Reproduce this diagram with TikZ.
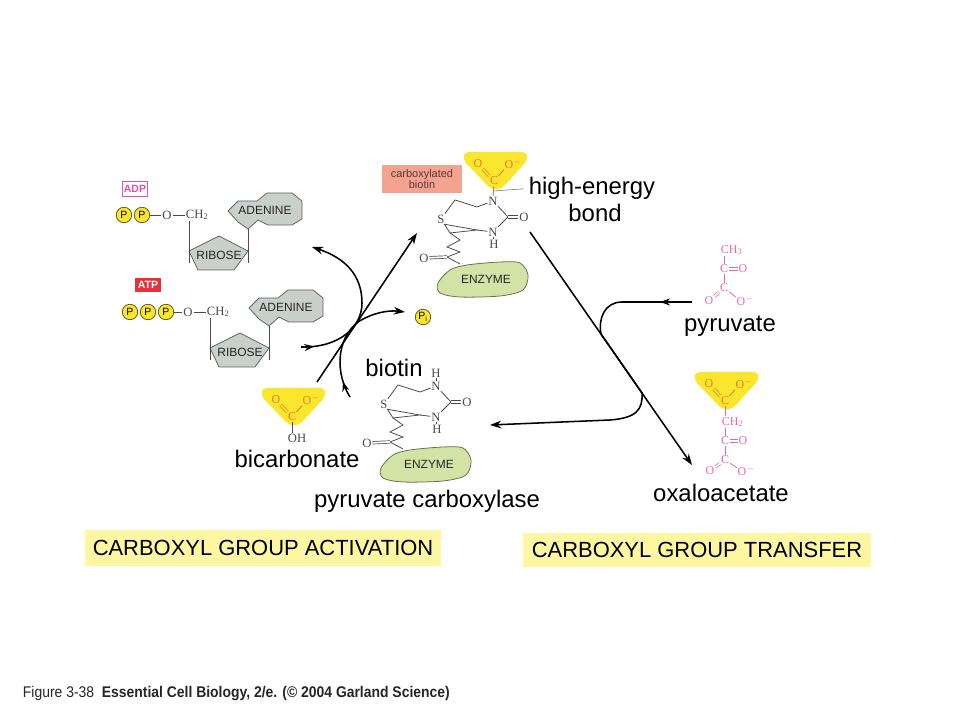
\documentclass[tikz,border=0pt]{standalone}
\usepackage{fontspec}
\setmainfont{Liberation Sans}
\newfontfamily\chemfont{Liberation Serif}
\newfontfamily\footfont[FakeStretch=0.9]{Liberation Sans}
\usetikzlibrary{arrows.meta,positioning,calc,decorations.markings}

\definecolor{ylw}{HTML}{FBE62E}
\definecolor{capy}{HTML}{FDF6A3}
\definecolor{pinkc}{HTML}{E46AA6}
\definecolor{orc}{HTML}{E8782E}
\definecolor{grayf}{HTML}{C9CFCB}
\definecolor{grayd}{HTML}{5E6360}
\definecolor{enzf}{HTML}{D2E3A5}
\definecolor{enzd}{HTML}{68704A}
\definecolor{salm}{HTML}{F4A391}
\definecolor{salt}{HTML}{5A3A32}
\definecolor{adpc}{HTML}{E0559F}
\definecolor{atpc}{HTML}{E8303A}
\definecolor{chemg}{HTML}{4A4A4A}

\tikzset{
  lbl/.style={anchor=base, font=\fontsize{17}{20}\selectfont},
  chem/.style={inner sep=0.5pt, text=chemg, font=\chemfont\fontsize{9}{10}\selectfont},
  pk/.style={chem, text=pinkc, font=\chemfont\fontsize{8.5}{10}\selectfont},
  cx/.style={chem, text=orc, font=\chemfont\fontsize{8.5}{10}\selectfont},
  bond/.style={draw=chemg, line width=0.55pt},
  pbond/.style={draw=pinkc, line width=0.6pt},
  xbond/.style={draw=orc, line width=0.6pt},
  dbl/.style={double, double distance=1.3pt, line width=0.5pt},
  gbox/.style={draw=grayd, fill=grayf, line width=0.55pt, line join=round},
  gtxt/.style={font=\fontsize{8.5}{10}\selectfont, text=black!85},
  enz/.style={draw=enzd, fill=enzf, line width=0.55pt},
  pcirc/.style={circle, draw=black!60!ylw, fill=ylw, line width=0.55pt,
    minimum size=11pt, inner sep=0pt, font=\fontsize{7.5}{8}\selectfont},
  salbox/.style={fill=salm, text=salt, align=center, inner sep=1pt,
    font=\fontsize{7.8}{8.3}\selectfont, minimum width=57pt, minimum height=20pt},
  capbox/.style={fill=capy, inner sep=0pt, font=\fontsize{15.6}{18}\selectfont},
  arr/.style={draw=black, line width=1.1pt, -{Stealth[length=8pt,width=5.5pt]}},
  midarr/.style={postaction={decorate}, decoration={markings,
    mark=at position #1 with {\arrow{Stealth[length=7pt,width=5pt]}}}},
  carboxyl/.pic={
    \fill[ylw] (-25,-29) -- (28,-29) .. controls (34,-29) and (35,-23) .. (31,-18)
      -- (12,3) .. controls (6,10) and (-2,10) .. (-8,3) -- (-28,-18)
      .. controls (-32,-23) and (-31,-29) .. (-25,-29) -- cycle;
    \node[cx] (-o) at (-16,-17) {O};
    \node[cx] (-om) at (15,-17) {O\rlap{$^-$}};
    \node[cx] (-c) at (0,0) {C};
    \draw[xbond, dbl, double=ylw] (-o) -- (-c);
    \draw[xbond] (-c) -- (-om);
  },
  biotin/.pic={
    \draw[enz] plot[smooth cycle] coordinates {(-39,76) (-27,63) (-10,58) (23,55)
      (43,56) (51,68) (46,83) (23,89) (-17,90) (-37,86)};
    \node[gtxt] at (9,72) {ENZYME};
    \coordinate (-ft) at (0,0);
    \coordinate (-ch) at (-22,-7);
    \node[chem] (-s) at (-36,12) {S};
    \coordinate (-cb) at (-27,26);
    \coordinate (-fb) at (0,23);
    \node[chem] (-nt) at (16,-6) {N};
    \coordinate (-cc) at (31,10);
    \node[chem] (-o) at (47,10) {O};
    \node[chem] (-nb) at (16,25) {N};
    \node[chem] (-h) at (17,37) {H};
    \draw[bond] (-ft) -- (-ch) -- (-s) -- (-cb) -- (-fb) -- cycle;
    \draw[bond] (-ft) -- (-nt) -- (-cc) -- (-nb) -- (-fb);
    \draw[bond, dbl] (-cc) -- (-o);
    \draw[bond] (-nb) -- (-h);
    \draw[bond] (-cb) -- (-17,33) -- (-30,40) -- (-17,45) -- (-30,50) coordinate (-zo) -- (-17,57);
    \node[chem] (-ok) at (-53,51) {O};
    \draw[bond, dbl] (-ok) -- (-zo);
  },
  nucl/.pic={
    \draw[gbox] (0,0) -- (30,-15) -- (59,0) -- (45,19) -- (9,19) -- cycle;
    \node[gtxt] at (30,4) {RIBOSE};
    \draw[gbox] (39,-40) -- (49,-50) -- (68,-50) -- (78,-58) -- (103,-58) -- (113,-50)
      -- (113,-32) -- (103,-26) -- (79,-26) -- (69,-31) -- (59,-22) -- (49,-29) -- cycle;
    \node[gtxt] at (76,-41) {ADENINE};
    \node[chem, anchor=west] (-ch) at (-4,-36) {CH\textsubscript{2}};
    \node[chem] (-o) at (-22,-36) {O};
    \draw[bond] (-o) -- (-ch);
    \draw[bond] (0,-30) -- (0,12);
    \draw[bond] (59,-22) -- (59,12);
  }
}

\begin{document}
\begin{tikzpicture}[x=0.025cm, y=-0.025cm]
  \useasboundingbox (0,0) rectangle (960,720);
  \fill[white] (0,0) rectangle (960,720);

  % ADP and ATP
  \node[draw=adpc, text=adpc, fill=white, line width=0.7pt, inner sep=1pt,
    minimum width=18pt, minimum height=10pt, font=\bfseries\fontsize{7.5}{8}\selectfont] (adpl) at (135,189) {ADP};
  \pic (adp) at (189,251) {nucl};
  \node[pcirc] (adp-p1) at (124,215) {P};
  \node[pcirc] (adp-p2) at (142,215) {P};
  \draw[bond] (adp-p2) -- (adp-o);

  \node[fill=atpc, text=white, inner sep=1pt, minimum width=18pt, minimum height=10pt,
    font=\bfseries\fontsize{7.5}{8}\selectfont] (atpl) at (148,285) {ATP};
  \pic (atp) at (210,348) {nucl};
  \node[pcirc] (atp-p1) at (130,312) {P};
  \node[pcirc] (atp-p2) at (148,312) {P};
  \node[pcirc] (atp-p3) at (166,312) {P};
  \draw[bond] (atp-p3) -- (atp-o);

  % carboxylated biotin
  \node[salbox] (cbl) at (422,179) {carboxylated\\biotin};
  \pic (ub) at (477,207) {biotin};
  \pic (uc) at (494,181) {carboxyl};
  \draw[xbond] (uc-c) -- (ub-nt);
  \node[lbl] (he) at (592,195) {high-energy};
  \node[lbl] (hb) at (595,222) {bond};
  \coordinate (heb) at ($(uc-c)!0.5!(ub-nt)$);
  \draw[gray, line width=0.45pt] (heb) -- (he.west);

  % biotin and bicarbonate
  \pic (lb) at (420,392) {biotin};
  \node[chem, above=2pt of lb-nt] (lbh) {H};
  \draw[bond] (lb-nt) -- (lbh);
  \node[lbl] (bt) at (394,377) {biotin};
  \node[lbl] (pc) at (427,507) {pyruvate carboxylase};
  \pic (bc) at (292,417) {carboxyl};
  \node[chem] (bcoh) at (297,438) {OH};
  \draw[bond] (bc-c) -- (bc-c |- bcoh.north);
  \node[lbl] (bcl) at (297,468) {bicarbonate};
  \node[pcirc] (pi) at (423,317) {P\textsubscript{i}};

  % pyruvate
  \node[pk, anchor=west] (pyh) at (720,250) {CH\textsubscript{3}};
  \node[pk] (pyc1) at (724,269) {C};
  \node[pk] (pyo1) at (743,269) {O};
  \node[pk] (pyc2) at (724,288) {C};
  \node[pk] (pyo2) at (709,301) {O};
  \node[pk] (pyo3) at (741,301) {O\rlap{$^-$}};
  \draw[pbond] (pyc1 |- pyh.south) -- (pyc1);
  \draw[pbond, dbl] (pyc1) -- (pyo1);
  \draw[pbond] (pyc1) -- (pyc2);
  \draw[pbond, dbl] (pyc2) -- (pyo2);
  \draw[pbond] (pyc2) -- (pyo3);
  \node[lbl] (pyl) at (730,332) {pyruvate};

  % oxaloacetate
  \pic (ox) at (725,401) {carboxyl};
  \node[pk, anchor=west] (oxh) at (721,422) {CH\textsubscript{2}};
  \node[pk] (oxc1) at (725,441) {C};
  \node[pk] (oxo1) at (743,441) {O};
  \node[pk] (oxc2) at (725,460) {C};
  \node[pk] (oxo2) at (710,471) {O};
  \node[pk] (oxo3) at (742,471) {O\rlap{$^-$}};
  \draw[pbond] (ox-c) -- (ox-c |- oxh.north);
  \draw[pbond] (oxc1 |- oxh.south) -- (oxc1);
  \draw[pbond, dbl] (oxc1) -- (oxo1);
  \draw[pbond] (oxc1) -- (oxc2);
  \draw[pbond, dbl] (oxc2) -- (oxo2);
  \draw[pbond] (oxc2) -- (oxo3);
  \node[lbl] (oxl) at (721,502) {oxaloacetate};

  % reaction arrows
  \coordinate (bce) at (317,382);
  \coordinate (cbe) at (417,233);
  \coordinate (atpe) at (301,347);
  \coordinate (adpe) at (312,247);
  \coordinate (bte) at (350,397);
  \coordinate (pie) at (405,312);
  \coordinate (cbo) at (530,232);
  \coordinate (oxe) at (692,465);
  \coordinate (pye) at (692,302);
  \coordinate (lbe) at (490,425);
  \draw[arr] (bce) -- (cbe);
  \draw[arr, midarr=0.08] (atpe) .. controls (338,348) and (362,328) .. (362,303)
    .. controls (362,275) and (345,258) .. (adpe);
  \draw[arr, midarr=0.13] (bte) .. controls (336,375) and (335,340) .. (358,322)
    .. controls (372,313) and (388,310) .. (pie);
  \draw[arr] (cbo) -- (oxe);
  \draw[arr, midarr=0.09] (pye) -- (622,302) .. controls (605,302) and (598,318) .. (601,334)
    -- (642,393) .. controls (643,410) and (636,418) .. (610,420) -- (lbe);

  % captions
  \node[capbox, minimum width=253pt, minimum height=25pt] (cap1) at (263,548) {CARBOXYL GROUP ACTIVATION};
  \node[capbox, minimum width=247.5pt, minimum height=23.5pt] (cap2) at (697,550) {CARBOXYL GROUP TRANSFER};
  \node[anchor=base west, text=black!85, font=\footfont\fontsize{11}{13}\selectfont] (foot) at (18,697)
    {Figure 3-38\enspace\textbf{Essential Cell Biology, 2/e. (\textcopyright\ 2004 Garland Science)}};
\end{tikzpicture}
\end{document}
